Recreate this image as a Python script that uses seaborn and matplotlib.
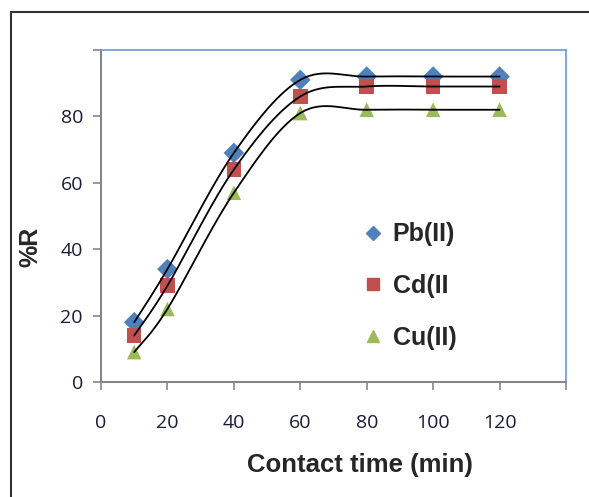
import numpy as np
import pandas as pd
import matplotlib
matplotlib.use("Agg")
import matplotlib.pyplot as plt
from matplotlib.lines import Line2D
import seaborn as sns

# data
time_min = [10, 20, 40, 60, 80, 100, 120]
pb_removal = [18, 34, 69, 91, 92, 92, 92]
cd_removal = [14, 29, 64, 86, 89, 89, 89]
cu_removal = [9, 22, 57, 81, 82, 82, 82]
ion_labels = ["Pb(II)", "Cd(II", "Cu(II)"]
ion_colors = ["#4F81BD", "#C0504D", "#9BBB59"]
ion_markers = ["D", "s", "^"]

sns.set_style("white")
plt.rcParams["font.family"] = ["Liberation Sans", "DejaVu Sans"]

df = pd.DataFrame({
    "time": time_min * 3,
    "R": pb_removal + cd_removal + cu_removal,
    "ion": [ion_labels[0]] * 7 + [ion_labels[1]] * 7 + [ion_labels[2]] * 7,
})


def smooth(xs, ys, n=30):
    # catmull-rom style smoothing like a spreadsheet "smoothed line"
    p = np.column_stack([xs, ys]).astype(float)
    p = np.vstack([p[0], p, p[-1]])
    out = []
    t = np.linspace(0, 1, n, endpoint=False)
    for i in range(1, len(p) - 2):
        p0, p1, p2, p3 = p[i - 1], p[i], p[i + 1], p[i + 2]
        c1 = p1 + (p2 - p0) / 6
        c2 = p2 - (p3 - p1) / 6
        for tt in t:
            b = ((1 - tt) ** 3) * p1 + 3 * ((1 - tt) ** 2) * tt * c1 \
                + 3 * (1 - tt) * tt ** 2 * c2 + tt ** 3 * p2
            out.append(b)
    out.append(p[-2])
    out = np.array(out)
    return out[:, 0], out[:, 1]


fig = plt.figure(figsize=(5.89, 4.97), dpi=100)
ax = fig.add_axes([101 / 589, 1 - 382 / 497, (566 - 101) / 589, (382 - 50) / 497])

# smoothed curves
for ys in [pb_removal, cd_removal, cu_removal]:
    sx, sy = smooth(time_min, ys)
    curve = pd.DataFrame({"x": sx, "y": sy})
    sns.lineplot(data=curve, x="x", y="y", sort=False, estimator=None,
                 color="black", lw=1.3, ax=ax, zorder=3)

# markers
sns.scatterplot(data=df, x="time", y="R", hue="ion", style="ion",
                palette=dict(zip(ion_labels, ion_colors)),
                markers=dict(zip(ion_labels, ion_markers)),
                s=110, edgecolor="none", ax=ax, zorder=2, legend=False)

ax.set_xlim(0, 140)
ax.set_ylim(0, 100)
ax.set_xticks([0, 20, 40, 60, 80, 100, 120, 140])
ax.set_xticklabels(["0", "20", "40", "60", "80", "100", "120", ""])
ax.set_yticks([0, 20, 40, 60, 80, 100])
ax.set_yticklabels(["0", "20", "40", "60", "80", ""])
ax.tick_params(axis="both", direction="out", length=6, width=1.2, color="#868686",
               labelsize=14, labelcolor="#1a1a3a", bottom=True, left=True)
ax.tick_params(axis="x", pad=17)
ax.tick_params(axis="y", pad=7)
for lab in ax.get_xticklabels() + ax.get_yticklabels():
    lab.set_family(["Open Sans", "DejaVu Sans"])

for side in ["left", "bottom"]:
    ax.spines[side].set_color("#868686")
    ax.spines[side].set_linewidth(1.5)
for side in ["top", "right"]:
    ax.spines[side].set_color("#6A9AD8")
    ax.spines[side].set_linewidth(1.2)

ax.set_xlabel("Contact time (min)", fontsize=18.5, fontweight="bold")
ax.set_ylabel("%R", fontsize=18, fontweight="bold")
ax.xaxis.set_label_coords((360 - 101) / 465, -(453 - 382) / 332)
ax.yaxis.set_label_coords(-(101 - 42) / 465, (382 - 247) / 332)

# legend
handles = [Line2D([], [], marker=m, color=c, ls="none", markersize=7 if m == "D" else 8)
           for m, c in zip(ion_markers, ion_colors)]
leg = ax.legend(handles, ion_labels, loc="upper left",
                bbox_to_anchor=((340 - 101) / 465, (382 - 200) / 332),
                frameon=False, handlelength=0.8, handletextpad=0.4,
                labelspacing=1.1, prop={"size": 18, "weight": "bold"})

# outer frame (left and top edges)
fig.add_artist(Line2D([11 / 589, 11 / 589], [0, 1 - 12 / 497], color="#333333", lw=1.5))
fig.add_artist(Line2D([11 / 589, 1], [1 - 12 / 497, 1 - 12 / 497], color="#333333", lw=1.5))

fig.savefig("out.png", dpi=100)
